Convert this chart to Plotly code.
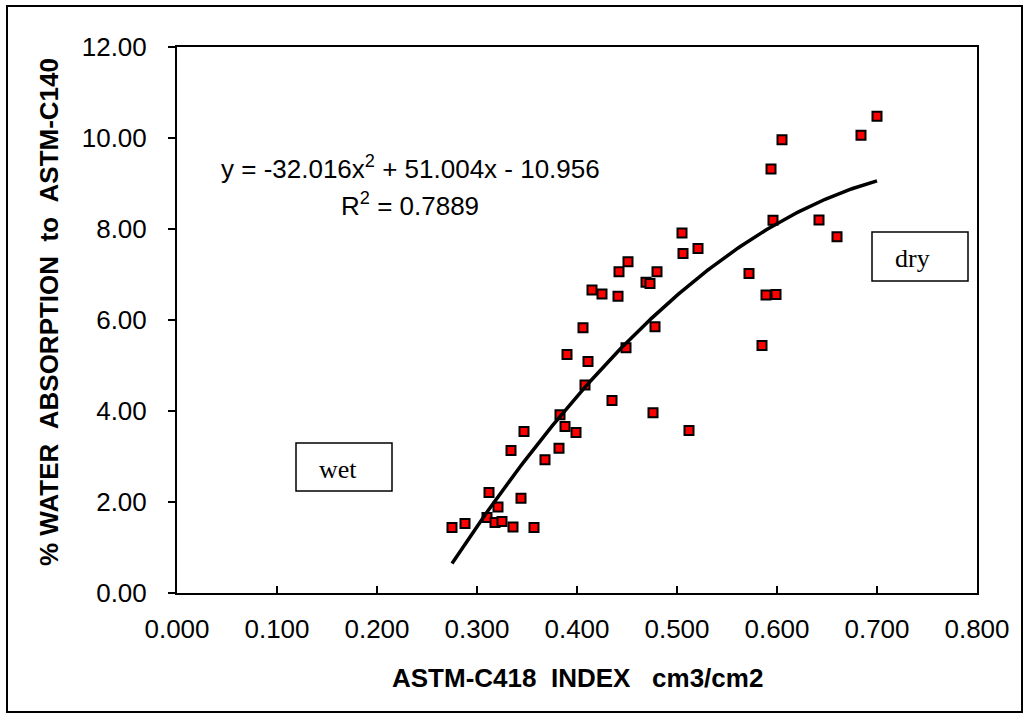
import plotly.graph_objects as go
import numpy as np

# ---- data ----
index_c418 = [0.275, 0.288, 0.310, 0.312, 0.318, 0.321, 0.325, 0.336, 0.334, 0.344,
              0.347, 0.357, 0.368, 0.382, 0.383, 0.388, 0.399, 0.390, 0.406, 0.408,
              0.411, 0.415, 0.425, 0.435, 0.441, 0.442, 0.449, 0.451, 0.469, 0.473,
              0.476, 0.478, 0.480, 0.505, 0.506, 0.512, 0.521, 0.572, 0.585, 0.589,
              0.594, 0.596, 0.599, 0.605, 0.642, 0.660, 0.684, 0.700]
water_c140 = [1.44, 1.53, 1.66, 2.21, 1.55, 1.89, 1.57, 1.45, 3.13, 2.08,
              3.55, 1.44, 2.93, 3.18, 3.92, 3.66, 3.53, 5.24, 5.83, 4.57,
              5.09, 6.66, 6.57, 4.23, 6.52, 7.06, 5.39, 7.28, 6.83, 6.80,
              3.96, 5.85, 7.06, 7.91, 7.46, 3.57, 7.57, 7.02, 5.44, 6.55,
              9.32, 8.19, 6.56, 9.96, 8.20, 7.83, 10.06, 10.48]

# trendline coefficients shown on the chart (a*x^2 + b*x + c)
trend_coeffs = [-32.016, 51.004, -10.956]
r_squared = 0.7889

x_ticks = [0.0, 0.1, 0.2, 0.3, 0.4, 0.5, 0.6, 0.7, 0.8]
y_ticks = [0, 2, 4, 6, 8, 10, 12]

x_title = "ASTM-C418\u00a0\u00a0INDEX\u00a0\u00a0\u00a0cm3/cm2"
y_title = "%\u00a0WATER\u00a0\u00a0ABSORPTION\u00a0\u00a0to\u00a0\u00a0ASTM-C140"

W, H = 1030, 719
L, R, T, B = 177, 977, 47, 593


def px(x):
    return (x - L) / (R - L)


def py(y):
    return (B - y) / (B - T)


tx = np.linspace(min(index_c418), max(index_c418), 200)
ty = np.polyval(trend_coeffs, tx)

fig = go.Figure()
fig.add_trace(go.Scatter(
    x=index_c418, y=water_c140, mode="markers",
    marker=dict(symbol="square", size=9, color="#FF0000",
                line=dict(color="black", width=2)),
    showlegend=False, hoverinfo="x+y"))
fig.add_trace(go.Scatter(
    x=tx, y=ty, mode="lines", line=dict(color="black", width=3.5),
    showlegend=False, hoverinfo="skip"))

font = dict(family="Liberation Sans, Arial, sans-serif", size=26, color="black")
serif = dict(family="Liberation Serif, Times New Roman, serif", size=26, color="black")

fig.update_layout(
    width=W, height=H,
    margin=dict(l=L, r=W - R, t=T, b=H - B, pad=0),
    paper_bgcolor="white", plot_bgcolor="white",
    font=font,
    xaxis=dict(range=[0, 0.8], tickvals=x_ticks, tickformat=".3f",
               showgrid=False, zeroline=False,
               showline=True, linecolor="black", linewidth=2, mirror=True,
               ticks="inside", ticklen=7, tickwidth=2, tickcolor="black",
               tickfont=font, ticklabelstandoff=12),
    yaxis=dict(range=[0, 12], tickvals=y_ticks, tickformat=".2f",
               showgrid=False, zeroline=False,
               showline=True, linecolor="black", linewidth=2, mirror=True,
               ticks="outside", ticklen=7, tickwidth=2, tickcolor="black",
               tickfont=font, ticklabelstandoff=16),
    shapes=[
        dict(type="rect", xref="paper", yref="paper",
             x0=px(7), x1=px(1022), y0=py(712), y1=py(6),
             line=dict(color="black", width=2), fillcolor="rgba(0,0,0,0)", layer="below"),
        dict(type="rect", xref="paper", yref="paper",
             x0=px(296), x1=px(392), y0=py(491), y1=py(443),
             line=dict(color="black", width=1.5), fillcolor="white"),
        dict(type="rect", xref="paper", yref="paper",
             x0=px(872), x1=px(968), y0=py(281), y1=py(232),
             line=dict(color="black", width=1.5), fillcolor="white"),
    ],
    annotations=[
        dict(xref="paper", yref="paper", x=px(577), y=py(678), xanchor="center", yanchor="middle",
             text="<b>%s</b>" % x_title, showarrow=False, font=font),
        dict(xref="paper", yref="paper", x=px(49), y=py(312), xanchor="center", yanchor="middle",
             text="<b>%s</b>" % y_title, textangle=-90, showarrow=False, font=font),
        dict(xref="paper", yref="paper", x=px(410), y=py(167), xanchor="center", yanchor="middle",
             text="y = %.3fx<sup>2</sup> + %.3fx - %.3f" % (trend_coeffs[0], trend_coeffs[1], -trend_coeffs[2]),
             showarrow=False, font=font),
        dict(xref="paper", yref="paper", x=px(410), y=py(204), xanchor="center", yanchor="middle",
             text="R<sup>2</sup> = %.4f" % r_squared, showarrow=False, font=font),
        dict(xref="paper", yref="paper", x=px(317), y=py(469), xanchor="left", yanchor="middle",
             text="wet", showarrow=False, font=serif),
        dict(xref="paper", yref="paper", x=px(893), y=py(258), xanchor="left", yanchor="middle",
             text="dry", showarrow=False, font=serif),
    ],
)

fig.write_html("out.html")
